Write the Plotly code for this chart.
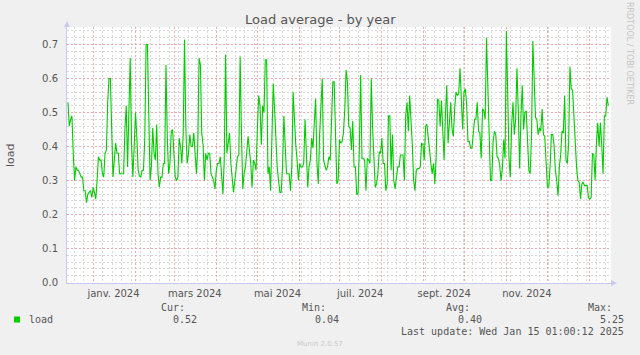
import pandas as pd
import plotly.graph_objects as go

# ---------------- data ----------------
load_values = [
    # mid-Dec 2023 .. early Feb 2024
    0.53, 0.46, 0.48, 0.49, 0.38, 0.30, 0.34, 0.33, 0.33, 0.32, 0.31, 0.31, 0.27, 0.27, 0.235, 0.26, 0.265,
    0.27, 0.25, 0.28, 0.265, 0.245, 0.30, 0.37, 0.36, 0.36, 0.32, 0.31, 0.38, 0.39, 0.53, 0.60, 0.60, 0.46,
    0.31, 0.36, 0.41, 0.38, 0.38, 0.32, 0.32, 0.32, 0.32, 0.45, 0.52, 0.34, 0.52, 0.66, 0.41, 0.31, 0.40, 0.50,
    # Feb .. mid-Mar
    0.43, 0.33, 0.313, 0.31, 0.33, 0.33, 0.425, 0.70, 0.70, 0.53, 0.30, 0.34, 0.455, 0.38, 0.36, 0.465, 0.32,
    0.28, 0.31, 0.31, 0.35, 0.35, 0.64, 0.425, 0.32, 0.35, 0.445, 0.45, 0.36, 0.31, 0.30, 0.31, 0.425, 0.40,
    0.35, 0.435, 0.715, 0.455, 0.35, 0.38, 0.435, 0.40, 0.40, 0.44, 0.38, 0.32, 0.40, 0.66, 0.64, 0.44,
    # Mar .. May
    0.405, 0.30, 0.38, 0.36, 0.38, 0.38, 0.32, 0.31, 0.30, 0.275, 0.33, 0.35, 0.35, 0.37, 0.30, 0.26, 0.36,
    0.67, 0.38, 0.405, 0.44, 0.35, 0.30, 0.265, 0.30, 0.34, 0.37, 0.375, 0.665, 0.435, 0.275, 0.32, 0.34,
    0.385, 0.43, 0.39, 0.35, 0.28, 0.36, 0.35, 0.33, 0.45, 0.55, 0.52, 0.405, 0.52, 0.50, 0.655, 0.655, 0.32,
    # May .. Jul
    0.34, 0.27, 0.415, 0.585, 0.51, 0.41, 0.34, 0.30, 0.265, 0.265, 0.34, 0.49, 0.405, 0.32, 0.32, 0.32,
    0.27, 0.34, 0.56, 0.46, 0.405, 0.36, 0.30, 0.35, 0.34, 0.34, 0.35, 0.48, 0.34, 0.28, 0.34, 0.36, 0.425,
    0.395, 0.47, 0.54, 0.35, 0.29, 0.435, 0.50, 0.60, 0.36, 0.34, 0.33, 0.34, 0.37, 0.36, 0.485, 0.59, 0.59,
    0.405,
    # Jul .. Sep
    0.29, 0.30, 0.42, 0.41, 0.415, 0.44, 0.51, 0.625, 0.59, 0.46, 0.455, 0.39, 0.475, 0.34, 0.34, 0.26, 0.26,
    0.395, 0.61, 0.365, 0.365, 0.36, 0.27, 0.365, 0.36, 0.35, 0.60, 0.455, 0.35, 0.28, 0.29, 0.32, 0.385,
    0.38, 0.425, 0.35, 0.35, 0.27, 0.29, 0.49, 0.49, 0.33, 0.435, 0.30, 0.275, 0.32, 0.34, 0.34, 0.375,
    0.375, 0.375, 0.30,
    # Sep .. Oct
    0.49, 0.53, 0.445, 0.55, 0.49, 0.405, 0.30, 0.27, 0.33, 0.335, 0.335, 0.34, 0.41, 0.405, 0.36, 0.46,
    0.465, 0.435, 0.39, 0.35, 0.32, 0.35, 0.29, 0.37, 0.54, 0.535, 0.46, 0.535, 0.43, 0.36, 0.495, 0.58,
    0.41, 0.46, 0.53, 0.45, 0.43, 0.515, 0.56, 0.55, 0.555, 0.63, 0.52, 0.45, 0.56, 0.57, 0.525, 0.415,
    0.415, 0.395, 0.395, 0.445,
    # Oct .. Dec
    0.48, 0.48, 0.53, 0.445, 0.44, 0.365, 0.51, 0.505, 0.48, 0.72, 0.56, 0.405, 0.30, 0.30, 0.415, 0.445,
    0.435, 0.37, 0.365, 0.345, 0.30, 0.335, 0.42, 0.365, 0.74, 0.56, 0.365, 0.31, 0.465, 0.53, 0.435, 0.48,
    0.63, 0.505, 0.335, 0.485, 0.58, 0.45, 0.50, 0.505, 0.415, 0.33, 0.32, 0.435, 0.71, 0.60, 0.485, 0.48,
    0.435, 0.455, 0.445,
    # Dec .. mid-Jan 2025
    0.51, 0.435, 0.43, 0.36, 0.28, 0.28, 0.34, 0.435, 0.435, 0.405, 0.33, 0.30, 0.255, 0.34, 0.375, 0.445,
    0.44, 0.55, 0.36, 0.35, 0.405, 0.635, 0.57, 0.565, 0.47, 0.415, 0.34, 0.30, 0.295, 0.245, 0.29, 0.295,
    0.285, 0.285, 0.285, 0.25, 0.245, 0.25, 0.38, 0.375, 0.30, 0.41, 0.47, 0.40, 0.47, 0.405, 0.32, 0.49,
    0.49, 0.545, 0.52,
]
data_start = "2023-12-13 10:00"
data_end = "2025-01-15 01:00"
axis_start = "2023-12-12 17:00"
axis_end = "2025-01-17 00:00"

month_labels = ["janv. 2024", "mars 2024", "mai 2024", "juil. 2024", "sept. 2024", "nov. 2024"]
month_label_dates = ["2024-01-16", "2024-03-16", "2024-05-16", "2024-07-16", "2024-09-16", "2024-11-16"]
y_ticks = [0.0, 0.1, 0.2, 0.3, 0.4, 0.5, 0.6, 0.7]

series_name = "load"
stat_names = ["Cur:", "Min:", "Avg:", "Max:"]
stat_values = ["0.52", "0.04", "0.40", "5.25"]
title_text = "Load average - by year"
last_update = "Last update: Wed Jan 15 01:00:12 2025"
footer_text = "Munin 2.0.57"
side_text = "RRDTOOL / TOBI OETIKER"

# ---------------- layout constants ----------------
W, H = 640, 355
L, R, T, B = 67, 611, 27, 283
PW, PH = R - L, B - T
PX_PER_UNIT = 340.0
HALF = 0.5 / PX_PER_UNIT               # half-pixel shift -> crisp horizontal grid
Y_RANGE = [-HALF, PH / PX_PER_UNIT - HALF]

def px(x):
    return (x - L) / PW

def py(y):
    return (B - y) / PH

TXT = "#555555"
MONO = "DejaVu Sans Mono"
SANS = "DejaVu Sans"
AXIS_COL = "#C8C8F4"
MAJOR_GRID = "#F2A8A8"
MINOR_GRID = "#D8D8D8"

t0 = pd.Timestamp(axis_start)
t1 = pd.Timestamp(axis_end)
span = t1 - t0

def snap_time(t):
    """Move a grid date to the nearest pixel centre so the dotted line is crisp."""
    p = (pd.Timestamp(t) - t0) / span * PW
    p = int(p) + 0.5
    return t0 + span * (p / PW)

times = pd.date_range(data_start, data_end, periods=len(load_values))
month_starts = pd.date_range("2024-01-01", "2025-01-01", freq="MS")
week_starts = pd.date_range("2023-12-11", "2025-01-20", freq="7D")
month_set = set(month_starts)
major_x = [snap_time(d) for d in month_starts]
minor_x = [snap_time(d) for d in week_starts if d not in month_set and t0 < d < t1]
minor_y = [round(k * 0.02, 2) for k in range(0, 38) if k % 5 != 0]

fig = go.Figure()
fig.add_trace(go.Scatter(
    x=times, y=load_values, mode="lines",
    line=dict(color="#00CC00", width=1.1),
    hoverinfo="skip", showlegend=False, xaxis="x", yaxis="y",
))
# invisible trace to activate the label axis
fig.add_trace(go.Scatter(
    x=[times[0]], y=[None], mode="lines", showlegend=False,
    hoverinfo="skip", xaxis="x2", yaxis="y",
))

fig.update_layout(
    width=W, height=H,
    margin=dict(l=L, r=W - R, t=T, b=H - B, pad=0),
    paper_bgcolor="#F0F0F0", plot_bgcolor="#FFFFFF",
    showlegend=False,
    font=dict(family=SANS, size=10, color=TXT),
    xaxis=dict(
        type="date", range=[axis_start, axis_end],
        tickmode="array", tickvals=major_x, ticktext=[""] * len(major_x),
        showticklabels=False, ticks="",
        showgrid=True, gridcolor=MAJOR_GRID, griddash="2px,2px", gridwidth=1,
        minor=dict(tickmode="array", tickvals=minor_x, showgrid=True,
                   gridcolor=MINOR_GRID, griddash="2px,2px", gridwidth=1, ticks=""),
        showline=True, linecolor=AXIS_COL, linewidth=1,
        zeroline=False, fixedrange=True, layer="below traces",
    ),
    xaxis2=dict(
        type="date", range=[axis_start, axis_end], overlaying="x", side="bottom", anchor="y",
        tickmode="array", tickvals=month_label_dates, ticktext=month_labels,
        showgrid=False, showline=False, ticks="", zeroline=False,
        tickfont=dict(family=SANS, size=10, color=TXT), ticklabelstandoff=3,
    ),
    yaxis=dict(
        range=Y_RANGE, tickmode="array", tickvals=y_ticks,
        ticktext=[f"{v:.1f}" for v in y_ticks],
        showgrid=True, gridcolor=MAJOR_GRID, griddash="2px,2px", gridwidth=1,
        minor=dict(tickmode="array", tickvals=minor_y, showgrid=True, gridcolor=MINOR_GRID,
                   griddash="2px,2px", gridwidth=1, ticks=""),
        showline=True, linecolor=AXIS_COL, linewidth=1,
        zeroline=False, ticks="", ticklabelstandoff=6,
        tickfont=dict(family=SANS, size=10, color=TXT), fixedrange=True,
    ),
)

# axis arrows
fig.add_shape(type="path", xref="paper", yref="paper",
              path=f"M {px(64)} {py(27)} L {px(70)} {py(27)} L {px(67)} {py(21)} Z",
              fillcolor=AXIS_COL, line=dict(width=0))
fig.add_shape(type="path", xref="paper", yref="paper",
              path=f"M {px(611)} {py(280)} L {px(611)} {py(286)} L {px(617)} {py(283)} Z",
              fillcolor=AXIS_COL, line=dict(width=0))

ann = []
ann.append(dict(text=title_text, x=px(320.5), y=py(19), xanchor="center", yanchor="middle",
                font=dict(family=SANS, size=13, color=TXT)))
ann.append(dict(text="load", x=px(10), y=py(155), xanchor="center", yanchor="middle",
                textangle=-90, font=dict(family=SANS, size=11, color=TXT)))
ann.append(dict(text=side_text, x=px(630), y=py(53), xanchor="center", yanchor="middle",
                textangle=90, font=dict(family=SANS, size=8, color="#C4C4C4")))

# legend
fig.add_shape(type="rect", xref="paper", yref="paper",
              x0=px(14), x1=px(20), y0=py(322.5), y1=py(316.5),
              fillcolor="#00CC00", line=dict(width=0))
ann.append(dict(text=series_name, x=px(27), y=py(319.5), xanchor="left", yanchor="middle",
                font=dict(family=MONO, size=10, color=TXT)))
name_right = [187, 328, 472, 614]
value_right = [199, 341, 484, 626]
for nm, val, xn, xv in zip(stat_names, stat_values, name_right, value_right):
    ann.append(dict(text=nm, x=px(xn), y=py(307.7), xanchor="right", yanchor="middle",
                    font=dict(family=MONO, size=10, color=TXT)))
    ann.append(dict(text=val, x=px(xv), y=py(319.5), xanchor="right", yanchor="middle",
                    font=dict(family=MONO, size=10, color=TXT)))
ann.append(dict(text=last_update, x=px(626), y=py(331.5), xanchor="right", yanchor="middle",
                font=dict(family=MONO, size=10, color=TXT)))
ann.append(dict(text=footer_text, x=px(320), y=py(344), xanchor="center", yanchor="middle",
                font=dict(family=SANS, size=7, color="#C8C8C8")))

for a in ann:
    a.update(xref="paper", yref="paper", showarrow=False)
fig.update_layout(annotations=ann)

fig.write_html(
    "out.html",
    config={"displayModeBar": False, "staticPlot": True},
    post_script="document.body.style.margin='0px';document.body.style.padding='0px';"
                "document.body.style.background='#F0F0F0';",
)
